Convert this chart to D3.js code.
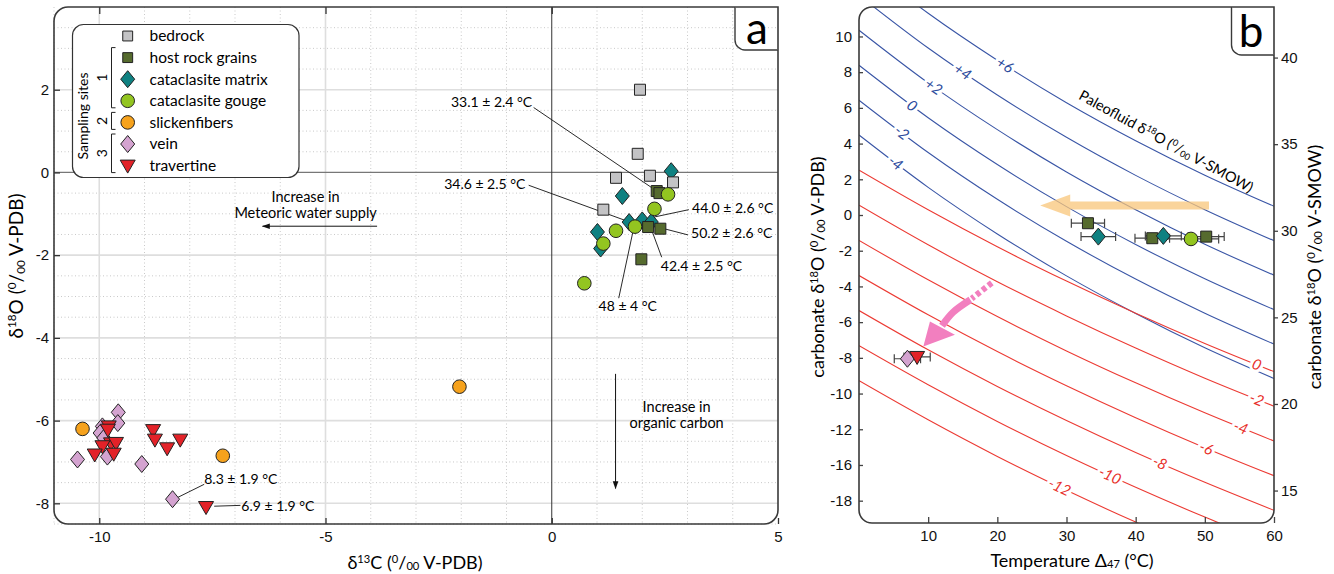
<!DOCTYPE html>
<html>
<head>
<meta charset="utf-8">
<script src="https://cdn.jsdelivr.net/npm/d3@7"></script>
<style>
  body { margin: 0; background: #fff; }
  svg { font-family: Lato, "Open Sans", sans-serif; }
</style>
</head>
<body>
<svg id="chart" width="1334" height="574"></svg>
<script>
// ---------- panel a : d13C vs d18O (permil V-PDB) ----------
const bedrock = [[1.95, 2.0], [1.90, 0.45], [1.42, -0.13], [2.17, -0.08], [2.68, -0.24], [1.14, -0.90]];
const hostRock = [[2.32, -0.45], [2.38, -0.50], [2.13, -1.32], [2.40, -1.36], [1.98, -2.10]];
const matrix = [[2.64, 0.03], [1.56, -0.57], [1.71, -1.20], [2.00, -1.16], [2.20, -1.20], [1.01, -1.44], [1.08, -1.84]];
const gouge = [[2.57, -0.53], [2.27, -0.88], [1.84, -1.31], [1.42, -1.41], [1.14, -1.72], [0.72, -2.68]];
const slickenfibers = [[-2.04, -5.18], [-10.37, -6.20], [-7.27, -6.85]];
const vein = [[-9.58, -5.80], [-9.59, -6.06], [-9.93, -6.14], [-9.98, -6.30], [-9.90, -6.42], [-10.48, -6.94], [-9.82, -6.87], [-9.06, -7.05], [-8.38, -7.90]];
const travertine = [[-9.79, -6.14], [-9.81, -6.22], [-9.74, -6.55], [-9.63, -6.54], [-9.93, -6.62], [-10.10, -6.82], [-9.68, -6.80], [-8.81, -6.23], [-8.77, -6.46], [-8.50, -6.67], [-8.21, -6.46], [-7.64, -8.09]];

const legendNames = ["bedrock", "host rock grains", "cataclasite matrix", "cataclasite gouge", "slickenfibers", "vein", "travertine"];
const legendKeys = ["bedrock", "host", "matrix", "gouge", "slick", "vein", "travertine"];

// annotations (temperatures) in panel a
const annoText = ["33.1 ± 2.4 °C", "34.6 ± 2.5 °C", "44.0 ± 2.6 °C", "50.2 ± 2.6 °C", "42.4 ± 2.5 °C", "48 ± 4 °C", "8.3 ± 1.9 °C", "6.9 ± 1.9 °C"];
const annoPos = [[-1.33, 1.71], [-1.48, -0.28], [3.10, -0.86], [3.08, -1.46], [2.41, -2.27], [1.68, -3.23], [-7.68, -7.42], [-6.86, -8.07]];
const annoAnchor = ["middle", "middle", "start", "start", "start", "middle", "start", "start"];
const annoFrom = [[-0.40, 1.57], [-0.51, -0.31], [3.03, -0.90], [3.01, -1.51], [2.43, -2.05], [1.48, -3.04], [-7.68, -7.54], [-6.88, -8.05]];
const annoTo = [[2.32, -0.45], [1.70, -1.19], [2.17, -1.10], [2.41, -1.34], [2.17, -1.28], [1.81, -1.35], [-8.27, -7.86], [-7.46, -8.07]];

// ---------- panel b : clumped isotope temperatures ----------
const bType = ["host", "matrix", "host", "matrix", "gouge", "host", "vein", "travertine"];
const bTemp = [33.1, 34.6, 42.4, 44.0, 48.0, 50.2, 7.0, 8.4];
const bErr = [2.4, 2.5, 2.5, 2.6, 4.0, 2.6, 1.9, 1.9];
const bD18O = [-0.46, -1.21, -1.30, -1.17, -1.34, -1.21, -8.05, -7.95];

// paleofluid iso-lines, carbonate d18O (V-PDB) read at these temperatures
const contourT = [0, 10, 20, 30, 40, 50, 60];
const blueLevels = ["+6", "+4", "+2", "0", "-2", "-4"];
const blueCurves = [
  [14.26, 11.30, 8.67, 6.29, 4.16, 2.23, 0.49],
  [12.30, 9.35, 6.72, 4.35, 2.22, 0.30, -1.44],
  [10.35, 7.40, 4.78, 2.41, 0.29, -1.64, -3.37],
  [8.39, 5.45, 2.83, 0.47, -1.65, -3.57, -5.30],
  [6.43, 3.50, 0.88, -1.47, -3.59, -5.50, -7.23],
  [4.48, 1.55, -1.06, -3.41, -5.52, -7.44, -9.16]
];
const blueLabelT = [21.1, 15.0, 10.8, 7.7, 6.2, 5.3];
const redLevels = ["0", "-2", "-4", "-6", "-8", "-10", "-12"];
const redCurves = [
  [2.51, 0.29, -1.78, -3.70, -5.50, -7.19, -8.77],
  [0.55, -1.67, -3.74, -5.65, -7.45, -9.14, -10.71],
  [-1.42, -3.63, -5.69, -7.61, -9.40, -11.08, -12.66],
  [-3.39, -5.59, -7.65, -9.56, -11.35, -13.03, -14.60],
  [-5.35, -7.55, -9.60, -11.51, -13.30, -14.97, -16.54],
  [-7.32, -9.51, -11.56, -13.47, -15.25, -16.92, -18.49],
  [-9.28, -11.47, -13.52, -15.42, -17.20, -18.87, -20.43]
];
const redLabelT = [57.5, 57.5, 55.2, 50.2, 43.5, 36.3, 29.0];

const leftTicksB = [10, 8, 6, 4, 2, 0, -2, -4, -6, -8, -10, -12, -14, -16];
const leftTickLabelsB = ["10", "8", "6", "4", "2", "0", "-2", "-4", "-6", "-8", "-10", "-12", "-16", "-18"];
const rightTicksB = [15, 20, 25, 30, 35, 40];
const bottomTicksB = [10, 20, 30, 40, 50, 60];

// ---------- styles ----------
const style = {
  bedrock:    { shape: "square",   fill: "#c3c3c5" },
  host:       { shape: "square",   fill: "#566b2e" },
  matrix:     { shape: "diamond",  fill: "#0f8181" },
  gouge:      { shape: "circle",   fill: "#93c520" },
  slick:      { shape: "circle",   fill: "#f6a21c" },
  vein:       { shape: "diamond",  fill: "#d4a3d0" },
  travertine: { shape: "triangle", fill: "#e32228" }
};

function shapePath(shape, s) {
  if (shape == "square") return `M${-5.5 * s},${-5.5 * s}h${11 * s}v${11 * s}h${-11 * s}Z`;
  if (shape == "diamond") return `M0,${-8.5 * s}L${7 * s},0L0,${8.5 * s}L${-7 * s},0Z`;
  if (shape == "circle") {
    const r = 6.8 * s;
    return `M${r},0A${r},${r} 0 1,1 ${-r},0A${r},${r} 0 1,1 ${r},0Z`;
  }
  return `M${-7.5 * s},${-5.5 * s}L${7.5 * s},${-5.5 * s}L0,${7.5 * s}Z`;
}

function drawMarker(g, key, x, y, s) {
  g.append("path")
    .attr("d", shapePath(style[key].shape, s || 1))
    .attr("transform", `translate(${x},${y})`)
    .attr("fill", style[key].fill)
    .attr("stroke", "#222")
    .attr("stroke-width", 1);
}

// text with super/subscripts
function rich(t, parts, fs) {
  let shift = 0;
  parts.forEach(([s, m]) => {
    const target = m == "sup" ? -0.36 * fs : m == "sub" ? 0.08 * fs : 0;
    t.append("tspan").text(s)
      .attr("dy", target - shift)
      .style("font-size", (m ? 0.62 * fs : fs) + "px");
    shift = target;
  });
}
const permil = (tail) => [["(", ""], ["0", "sup"], ["/", ""], ["00", "sub"], [" " + tail + ")", ""]];

function framePath(x0, y0, x1, y1, r) {
  return `M${x0 + r},${y0}H${x1}V${y1 - r}A${r},${r} 0 0 1 ${x1 - r},${y1}H${x0 + r}A${r},${r} 0 0 1 ${x0},${y1 - r}V${y0 + r}A${r},${r} 0 0 1 ${x0 + r},${y0}Z`;
}

const svg = d3.select("#chart");
const defs = svg.append("defs");
defs.append("marker")
  .attr("id", "ah").attr("viewBox", "0 0 10 10")
  .attr("refX", 9).attr("refY", 5)
  .attr("markerWidth", 11).attr("markerHeight", 8)
  .attr("markerUnits", "userSpaceOnUse")
  .attr("orient", "auto")
  .append("path").attr("d", "M0,1.5L10,5L0,8.5Z").attr("fill", "#111");

// ================= PANEL A =================
const xA = d3.scaleLinear().domain([-11, 5]).range([54, 778]);
const yA = d3.scaleLinear().domain([-8.5, 4]).range([524, 7]);
const gA = svg.append("g");

// grid
const minorX = d3.range(-11, 5.01, 1).filter(v => v % 5 != 0);
const minorY = d3.range(-8.5, 4.01, 0.5).filter(v => v % 2 != 0);
gA.selectAll(".mx").data(minorX).join("line")
  .attr("x1", d => xA(d)).attr("x2", d => xA(d)).attr("y1", yA(4)).attr("y2", yA(-8.5))
  .attr("stroke", "#c9c9c9").attr("stroke-width", 1).attr("stroke-dasharray", "1,2.5");
gA.selectAll(".my").data(minorY).join("line")
  .attr("y1", d => yA(d)).attr("y2", d => yA(d)).attr("x1", xA(-11)).attr("x2", xA(5))
  .attr("stroke", "#c9c9c9").attr("stroke-width", 1).attr("stroke-dasharray", "1,2.5");
gA.selectAll(".Mx").data([-10, -5]).join("line")
  .attr("x1", d => xA(d)).attr("x2", d => xA(d)).attr("y1", yA(4)).attr("y2", yA(-8.5))
  .attr("stroke", "#dedede").attr("stroke-width", 1.6);
gA.selectAll(".My").data([-8, -6, -4, -2, 2]).join("line")
  .attr("y1", d => yA(d)).attr("y2", d => yA(d)).attr("x1", xA(-11)).attr("x2", xA(5))
  .attr("stroke", "#dedede").attr("stroke-width", 1.6);
gA.append("line").attr("x1", xA(-11)).attr("x2", xA(5)).attr("y1", yA(0)).attr("y2", yA(0))
  .attr("stroke", "#777").attr("stroke-width", 1.2);
gA.append("line").attr("x1", xA(0)).attr("x2", xA(0)).attr("y1", yA(4)).attr("y2", yA(-8.5))
  .attr("stroke", "#333").attr("stroke-width", 1);

// axes
const axLA = gA.append("g").attr("transform", `translate(${xA(-11)},0)`)
  .call(d3.axisLeft(yA).tickValues([-8, -6, -4, -2, 0, 2]).tickSize(-6).tickPadding(5).tickFormat(d => String(d)));
const axBA = gA.append("g").attr("transform", `translate(0,${yA(-8.5)})`)
  .call(d3.axisBottom(xA).tickValues([-10, -5, 0, 5]).tickSize(-6).tickPadding(7).tickFormat(d => String(d)));
const axTA = gA.append("g").attr("transform", `translate(0,${yA(4)})`)
  .call(d3.axisTop(xA).tickValues([-10, -5, 0]).tickSize(-7).tickFormat(""));
[axLA, axBA, axTA].forEach(a => {
  a.select(".domain").remove();
  a.selectAll("line").attr("stroke", "#333").attr("stroke-width", 1.3);
  a.selectAll("text").style("font-size", "15px").style("font-family", null).attr("fill", "#111");
});

// arrows + text
gA.append("line").attr("x1", xA(-3.86)).attr("x2", xA(-6.39)).attr("y1", yA(-1.30)).attr("y2", yA(-1.30))
  .attr("stroke", "#111").attr("stroke-width", 1).attr("marker-end", "url(#ah)");
gA.append("text").attr("x", xA(-5.44)).attr("y", yA(-0.585)).attr("dy", "0.35em").attr("text-anchor", "middle")
  .style("font-size", "14.5px").text("Increase in");
gA.append("text").attr("x", xA(-5.44)).attr("y", yA(-0.98)).attr("dy", "0.35em").attr("text-anchor", "middle")
  .style("font-size", "14.5px").text("Meteoric water supply");
gA.append("line").attr("x1", xA(1.41)).attr("x2", xA(1.41)).attr("y1", yA(-4.87)).attr("y2", yA(-7.64))
  .attr("stroke", "#111").attr("stroke-width", 1).attr("marker-end", "url(#ah)");
gA.append("text").attr("x", xA(2.76)).attr("y", yA(-5.66)).attr("dy", "0.35em").attr("text-anchor", "middle")
  .style("font-size", "14.5px").text("Increase in");
gA.append("text").attr("x", xA(2.76)).attr("y", yA(-6.06)).attr("dy", "0.35em").attr("text-anchor", "middle")
  .style("font-size", "14.5px").text("organic carbon");

// annotation leader lines
gA.selectAll(".lead").data(annoText).join("line")
  .attr("x1", (d, i) => xA(annoFrom[i][0])).attr("y1", (d, i) => yA(annoFrom[i][1]))
  .attr("x2", (d, i) => xA(annoTo[i][0])).attr("y2", (d, i) => yA(annoTo[i][1]))
  .attr("stroke", "#111").attr("stroke-width", 0.9);

// points
const drawOrderA = [["matrix", matrix], ["bedrock", bedrock], ["host", hostRock], ["gouge", gouge],
  ["slick", slickenfibers], ["vein", vein], ["travertine", travertine]];
drawOrderA.forEach(([key, pts]) => {
  pts.forEach(p => drawMarker(gA, key, xA(p[0]), yA(p[1])));
});

gA.selectAll(".anno").data(annoText).join("text")
  .attr("x", (d, i) => xA(annoPos[i][0])).attr("y", (d, i) => yA(annoPos[i][1]))
  .attr("dy", "0.35em").attr("text-anchor", (d, i) => annoAnchor[i])
  .style("font-size", "14px").text(d => d);

// legend
const legRowY = i => 36 + i * 21.6;
const gLeg = gA.append("g");
gLeg.append("rect").attr("x", 72.5).attr("y", 24.5).attr("width", 226.5).attr("height", 153)
  .attr("rx", 11).attr("fill", "#fff").attr("stroke", "#333").attr("stroke-width", 1.2);
legendKeys.forEach((k, i) => {
  drawMarker(gLeg, k, 127.7, legRowY(i), style[k].shape == "square" ? 0.9 : 1);
  gLeg.append("text").attr("x", 149.5).attr("y", legRowY(i)).attr("dy", "0.35em")
    .style("font-size", "15.5px").text(legendNames[i]);
});
gLeg.append("text").attr("transform", "translate(83,116) rotate(-90)").attr("text-anchor", "middle")
  .attr("dy", "0.35em").style("font-size", "14px").text("Sampling sites");
const sites = [["1", 1, 3], ["2", 4, 4], ["3", 5, 6]];
sites.forEach(([lab, a, b]) => {
  const y0 = legRowY(a) - 10, y1 = legRowY(b) + 7;
  gLeg.append("path").attr("d", `M115.5,${y0}H111.5V${y1}H115.5`).attr("fill", "none")
    .attr("stroke", "#222").attr("stroke-width", 1);
  gLeg.append("text").attr("transform", `translate(102,${(y0 + y1) / 2}) rotate(-90)`)
    .attr("text-anchor", "middle").attr("dy", "0.35em").style("font-size", "14px").text(lab);
});

// frame and label box
gA.append("path").attr("d", framePath(54, 7, 778, 524, 14)).attr("fill", "none")
  .attr("stroke", "#3a3a3a").attr("stroke-width", 1.6);
gA.append("path").attr("d", "M735,7V40A10,10 0 0 0 745,50H778").attr("fill", "#fff")
  .attr("stroke", "#3a3a3a").attr("stroke-width", 1.4);
gA.append("text").attr("x", 757).attr("y", 44).attr("text-anchor", "middle")
  .style("font-size", "44px").text("a");

// axis titles
rich(gA.append("text").attr("x", 415).attr("y", 569).attr("text-anchor", "middle"),
  [["δ", ""], ["13", "sup"], ["C ", ""]].concat(permil("V-PDB")), 18);
rich(gA.append("text").attr("transform", "translate(23,266) rotate(-90)").attr("text-anchor", "middle"),
  [["δ", ""], ["18", "sup"], ["O ", ""]].concat(permil("V-PDB")), 19);

// ================= PANEL B =================
const xB = d3.scaleLinear().domain([0, 60]).range([859, 1274]);
const yB = d3.scaleLinear().domain([-17.25, 11.65]).range([523, 7]);
const yBsmow = d3.scaleLinear().domain(yB.domain().map(v => 1.03091 * v + 30.91)).range([523, 7]);
const gB = svg.append("g");

defs.append("clipPath").attr("id", "clipB").append("path").attr("d", framePath(859, 7, 1274, 523, 13));
const gC = gB.append("g").attr("clip-path", "url(#clipB)");

const iso = d3.line().x((d, i) => xB(contourT[i])).y(d => yB(d)).curve(d3.curveMonotoneX);
gC.selectAll(".blue").data(blueCurves).join("path")
  .attr("d", iso).attr("fill", "none").attr("stroke", "#3a56a6").attr("stroke-width", 1.1);
gC.selectAll(".red").data(redCurves).join("path")
  .attr("d", iso).attr("fill", "none").attr("stroke", "#ec3a33").attr("stroke-width", 1.1);

function isoLabel(vals, T, text, color) {
  const f = d3.scaleLinear().domain(contourT).range(vals);
  const px = xB(T), py = yB(f(T));
  const ang = Math.atan2(yB(f(T + 1)) - yB(f(T - 1)), xB(T + 1) - xB(T - 1)) * 180 / Math.PI;
  gC.append("text").attr("transform", `translate(${px},${py}) rotate(${ang})`)
    .attr("text-anchor", "middle").attr("dy", "0.35em")
    .attr("fill", color).attr("stroke", "#fff").attr("stroke-width", 6).attr("paint-order", "stroke")
    .style("font-size", "15px").style("font-style", "italic").text(text);
}
blueCurves.forEach((c, i) => isoLabel(c, blueLabelT[i], blueLevels[i], "#2d4c9d"));
redCurves.forEach((c, i) => isoLabel(c, redLabelT[i], redLevels[i], "#e8302b"));

// paleofluid caption along the +6 line
{
  const f = d3.scaleLinear().domain(contourT).range(blueCurves[0]);
  const T = 31;
  const ang = Math.atan2(yB(f(T + 1)) - yB(f(T - 1)), xB(T + 1) - xB(T - 1)) * 180 / Math.PI;
  const t = gB.append("text").attr("transform", `translate(${xB(T)},${yB(f(T))}) rotate(${ang})`)
    .attr("y", -9);
  rich(t, [["Paleofluid δ", ""], ["18", "sup"], ["O ", ""]].concat(permil("V-SMOW")), 14.5);
}

// orange arrow (cooling)
{
  const x0 = xB(50.6), x1 = xB(26.2), y = yB(0.53);
  gB.append("path")
    .attr("d", `M${x0},${y - 4}H${x1 + 30}V${y - 11}L${x1},${y}L${x1 + 30},${y + 11}V${y + 4}H${x0}Z`)
    .attr("fill", "#f8c67a").attr("opacity", 0.75);
}
// pink arrow
{
  const pl = d3.line().x(d => xB(d[0])).y(d => yB(d[1])).curve(d3.curveCatmullRom);
  gB.append("path").attr("d", pl([[19.2, -3.8], [16.3, -4.68]])).attr("fill", "none")
    .attr("stroke", "#f27fbf").attr("stroke-width", 6).attr("stroke-dasharray", "4.5,3");
  gB.append("path").attr("d", pl([[16.1, -4.75], [13.6, -5.45], [12.0, -6.2]])).attr("fill", "none")
    .attr("stroke", "#f27fbf").attr("stroke-width", 7);
  gB.append("path").attr("d", "M" + [[10.26, -5.96], [13.87, -6.70], [9.3, -7.36]].map(p => [xB(p[0]), yB(p[1])]).join("L") + "Z")
    .attr("fill", "#f27fbf");
}

// error bars + points
bTemp.forEach((T, i) => {
  const y = yB(bD18O[i]);
  const xa = xB(T - bErr[i]), xb = xB(T + bErr[i]);
  gB.append("path").attr("d", `M${xa},${y}H${xb}M${xa},${y - 4.5}V${y + 4.5}M${xb},${y - 4.5}V${y + 4.5}`)
    .attr("stroke", "#444").attr("stroke-width", 1.2).attr("fill", "none");
});
bTemp.forEach((T, i) => drawMarker(gB, bType[i], xB(T), yB(bD18O[i])));

// axes
const axLB = gB.append("g").attr("transform", `translate(859,0)`)
  .call(d3.axisLeft(yB).tickValues(leftTicksB).tickSize(-4).tickPadding(7).tickFormat((d, i) => leftTickLabelsB[i]));
const axBB = gB.append("g").attr("transform", `translate(0,523)`)
  .call(d3.axisBottom(xB).tickValues(bottomTicksB).tickSize(-6).tickPadding(7).tickFormat(d => String(d)));
const axRB = gB.append("g").attr("transform", `translate(1274,0)`)
  .call(d3.axisRight(yBsmow).tickValues(rightTicksB).tickSize(4).tickPadding(3).tickFormat(d => String(d)));
[axLB, axBB, axRB].forEach(a => {
  a.select(".domain").remove();
  a.selectAll("line").attr("stroke", "#444").attr("stroke-width", 1.3);
  a.selectAll("text").style("font-size", "15px").style("font-family", null).attr("fill", "#111");
});

gB.append("path").attr("d", framePath(859, 7, 1274, 523, 13)).attr("fill", "none")
  .attr("stroke", "#3a3a3a").attr("stroke-width", 1.6);
gB.append("path").attr("d", "M1231.5,7V45A10,10 0 0 0 1241.5,55H1274").attr("fill", "#fff")
  .attr("stroke", "#3a3a3a").attr("stroke-width", 1.4);
gB.append("text").attr("x", 1251).attr("y", 47).attr("text-anchor", "middle")
  .style("font-size", "44px").text("b");

// axis titles
rich(gB.append("text").attr("x", 1072).attr("y", 567).attr("text-anchor", "middle"),
  [["Temperature Δ", ""], ["47", "sub"], [" (°C)", ""]], 18);
rich(gB.append("text").attr("transform", "translate(824,267) rotate(-90)").attr("text-anchor", "middle"),
  [["carbonate δ", ""], ["18", "sup"], ["O ", ""]].concat(permil("V-PDB")), 18);
rich(gB.append("text").attr("transform", "translate(1321,267) rotate(-90)").attr("text-anchor", "middle"),
  [["carbonate δ", ""], ["18", "sup"], ["O ", ""]].concat(permil("V-SMOW")), 18);
</script>
</body>
</html>
